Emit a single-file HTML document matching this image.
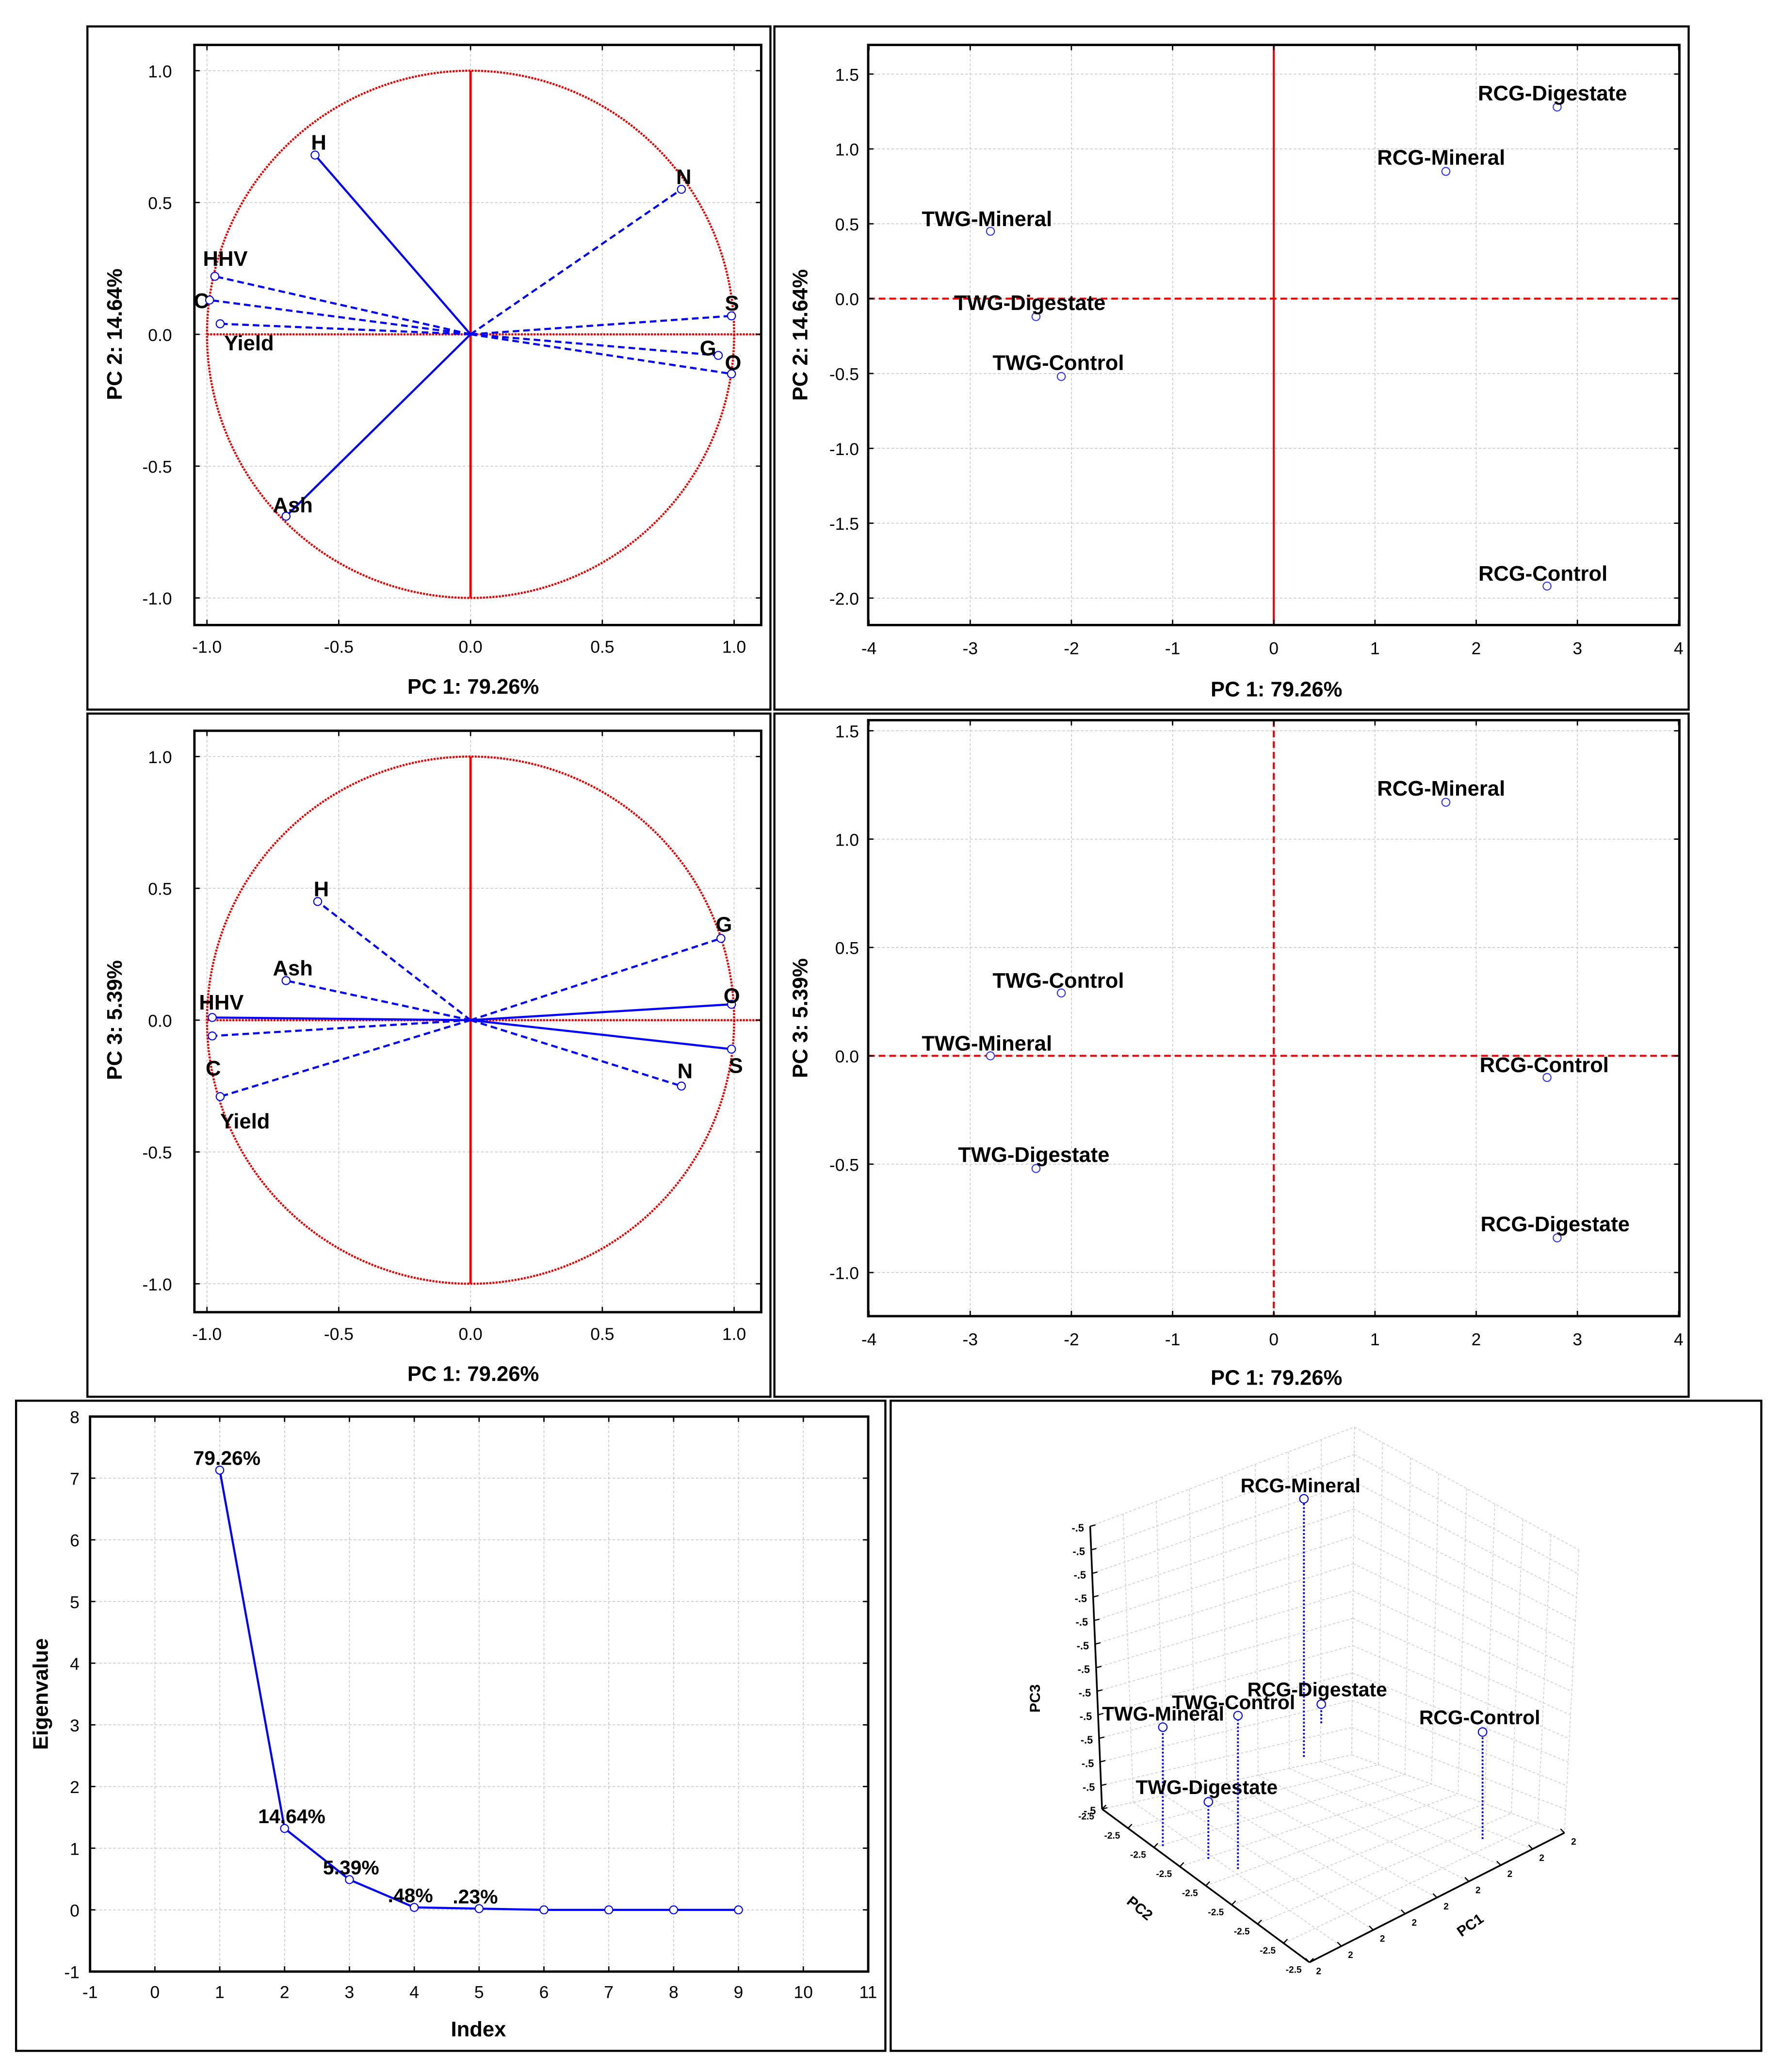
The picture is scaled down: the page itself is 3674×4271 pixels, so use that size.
<!DOCTYPE html>
<html><head><meta charset="utf-8">
<style>
html,body{margin:0;padding:0;background:#fff}
svg{display:block}
text{font-family:"Liberation Sans",Arial,sans-serif}
</style></head>
<body>
<svg id="fig" xmlns="http://www.w3.org/2000/svg" width="3674" height="4271" viewBox="0 0 1348.5 1568">
<rect x="0" y="0" width="1348.5" height="1568" fill="#fff"/>
</svg>
<script>
// ---------- DATA ----------
const varNames = ["H","N","HHV","C","Yield","S","G","O","Ash"];
const loadPC1 = [-0.59,0.80,-0.97,-0.99,-0.95,0.99,0.94,0.99,-0.70];
const loadPC2 = [0.68,0.55,0.22,0.13,0.04,0.07,-0.08,-0.15,-0.69];
const loadStyle12 = ["solid","dash","dash","dash","dash","dash","dash","dash","solid"];

const varNames3 = ["H","Ash","HHV","C","Yield","G","O","S","N"];
const load3PC1 = [-0.58,-0.70,-0.98,-0.98,-0.95,0.95,0.99,0.99,0.80];
const load3PC3 = [0.45,0.15,0.01,-0.06,-0.29,0.31,0.06,-0.11,-0.25];
const loadStyle13 = ["dash","dash","solid","dash","dash","dash","solid","solid","dash"];

const groups = ["RCG-Digestate","RCG-Mineral","TWG-Mineral","TWG-Digestate","TWG-Control","RCG-Control"];
const scorePC1 = [2.8,1.7,-2.8,-2.35,-2.1,2.7];
const scorePC2 = [1.28,0.85,0.45,-0.12,-0.52,-1.92];
const scorePC3 = [-0.84,1.17,0.0,-0.52,0.29,-0.10];

const screeIndex = [1,2,3,4,5,6,7,8,9];
const eigenvalues = [7.13,1.32,0.49,0.04,0.02,0.0,0.0,0.0,0.0];
const screeLabels = ["79.26%","14.64%","5.39%",".48%",".23%","","","",""];

const circleTicks = [-1.0,-0.5,0.0,0.5,1.0];
const scoreXTicks = [-4,-3,-2,-1,0,1,2,3,4];
const score2YTicks = [1.5,1.0,0.5,0.0,-0.5,-1.0,-1.5,-2.0];
const score3YTicks = [1.5,1.0,0.5,0.0,-0.5,-1.0];
const screeXTicks = [-1,0,1,2,3,4,5,6,7,8,9,10,11];
const screeYTicks = [-1,0,1,2,3,4,5,6,7,8];

// ---------- HELPERS ----------
const NS="http://www.w3.org/2000/svg";
const svg=document.getElementById('fig');
function el(tag,attrs,parent,txt){
  const e=document.createElementNS(NS,tag);
  for(const k in attrs)e.setAttribute(k,attrs[k]);
  if(txt!==undefined)e.textContent=txt;
  (parent||svg).appendChild(e);return e;
}
function grp(name){const g=el('g',{});
  
  
  return g;}
function fmt1(v){return (v<0?"-":"")+Math.abs(v).toFixed(1);}
function frame(g,x0,y0,x1,y1){
  el('rect',{x:x0,y:y0,width:x1-x0,height:y1-y0,fill:'none',stroke:'#000','stroke-width':1.8},g);
}
function ticksInner(g,xs,ys,x0,y0,x1,y1){
  xs.forEach(x=>{el('line',{x1:x,y1:y1,x2:x,y2:y1-4,stroke:'#000','stroke-width':1},g);el('line',{x1:x,y1:y0,x2:x,y2:y0+4,stroke:'#000','stroke-width':1},g);});
  ys.forEach(y=>{el('line',{x1:x0,y1:y,x2:x0+4,y2:y,stroke:'#000','stroke-width':1},g);el('line',{x1:x1,y1:y,x2:x1-4,y2:y,stroke:'#000','stroke-width':1},g);});
}
function gridLines(g,xs,ys,x0,y0,x1,y1){
  xs.forEach(x=>el('line',{x1:x,y1:y0,x2:x,y2:y1,stroke:'#c8c8c8','stroke-width':0.6,'stroke-dasharray':'2,1.5'},g));
  ys.forEach(y=>el('line',{x1:x0,y1:y,x2:x1,y2:y,stroke:'#c8c8c8','stroke-width':0.6,'stroke-dasharray':'2,1.5'},g));
}
function outerBox(name,x0,y0,x1,y1){
  const r=el('rect',{x:x0,y:y0,width:x1-x0,height:y1-y0,fill:'none',stroke:'#000','stroke-width':1.6});
  
  
}
function vTitle(g,x,y,t,name){
  const e=el('text',{x:x,y:y,transform:`rotate(-90 ${x} ${y})`,'text-anchor':'middle','font-size':16,'font-weight':'bold'},g,t);
  
  
}
function hTitle(g,x,y,t,name){
  const e=el('text',{x:x,y:y,'text-anchor':'middle','font-size':16,'font-weight':'bold'},g,t);
  
  
}

// ---------- CIRCLE PANELS ----------
function circlePanel(opts){
  const g=grp(opts.name);
  outerBox(opts.name+'-border',66,opts.boxY0,583,opts.boxY1);
  const cx=356, cy=opts.cy, R=199.5;
  const X=v=>cx+v*R, Y=v=>cy-v*R;
  const px0=147,px1=576,py0=opts.py0,py1=opts.py1;
  gridLines(g,circleTicks.map(X),circleTicks.map(Y),px0,py0,px1,py1);
  el('circle',{cx:cx,cy:cy,r:R,fill:'none',stroke:'#e00','stroke-width':1.6,'stroke-dasharray':'1.5,0.9'},g);
  el('line',{x1:X(-1),y1:cy,x2:px1,y2:cy,stroke:'#e00','stroke-width':1.6,'stroke-dasharray':'1.5,0.9'},g);
  el('line',{x1:cx,y1:Y(1),x2:cx,y2:Y(-1),stroke:'#e00','stroke-width':1.8},g);
  frame(g,px0,py0,px1,py1);
  ticksInner(g,circleTicks.map(X),circleTicks.map(Y),px0,py0,px1,py1);
  circleTicks.forEach(v=>{
    el('text',{x:X(v),y:py1+21,'text-anchor':'middle','font-size':13},g,fmt1(v));
    el('text',{x:px0-17,y:Y(v)+5,'text-anchor':'end','font-size':13},g,fmt1(v));
  });
  opts.names.forEach((n,i)=>{
    const x=X(opts.xs[i]),y=Y(opts.ys[i]);
    const ln=el('line',{x1:cx,y1:cy,x2:x,y2:y,stroke:'#00f','stroke-width':1.6,'stroke-dasharray':opts.styles[i]==='dash'?'5,3':'none'},g);
    
    
    el('circle',{cx:x,cy:y,r:3,fill:'#fff',stroke:'#00f','stroke-width':0.8},g);
    const o=opts.lab[i];
    const t=el('text',{x:x+o[0],y:y+o[1],'font-size':16,'font-weight':'bold','text-anchor':o[2]||'start'},g,n);
    
    
  });
  vTitle(g,92,cy,opts.ytitle,'y-axis-title');
  hTitle(g,358,opts.xtitleY,'PC 1: 79.26%','x-axis-title');
}
circlePanel({name:'loadings-pc1-pc2',boxY0:20,boxY1:537,cy:253,py0:34,py1:473,
  names:varNames,xs:loadPC1,ys:loadPC2,styles:loadStyle12,ytitle:'PC 2: 14.64%',xtitleY:525,
  lab:[[-3,-4],[-4,-4],[-9,-8],[-12,6],[3,20],[-5,-4],[-14,0],[-5,-3],[-10,-3]]});
circlePanel({name:'loadings-pc1-pc3',boxY0:540,boxY1:1057,cy:772,py0:553,py1:993,
  names:varNames3,xs:load3PC1,ys:load3PC3,styles:loadStyle13,ytitle:'PC 3:  5.39%',xtitleY:1045,
  lab:[[-3,-4],[-10,-4],[-10,-6],[-5,30],[0,24],[-4,-5],[-6,-1],[-2,18],[-3,-6]]});

// ---------- SCORE PANELS ----------
function scorePanel(opts){
  const g=grp(opts.name);
  outerBox(opts.name+'-border',586,opts.boxY0,1278,opts.boxY1);
  const px0=657,px1=1271,py0=opts.py0,py1=opts.py1;
  const X=v=>964+v*76.6, Y=v=>opts.y0+-v*opts.ys;
  gridLines(g,scoreXTicks.map(X),opts.yt.map(Y),px0,py0,px1,py1);
  el('line',{x1:px0,y1:Y(0),x2:px1,y2:Y(0),stroke:'#e00','stroke-width':1.5,'stroke-dasharray':'5,3'},g);
  el('line',{x1:X(0),y1:py0,x2:X(0),y2:py1,stroke:'#e00','stroke-width':1.5,'stroke-dasharray':opts.vdash},g);
  frame(g,px0,py0,px1,py1);
  ticksInner(g,scoreXTicks.map(X),opts.yt.map(Y),px0,py0,px1,py1);
  scoreXTicks.forEach(v=>el('text',{x:X(v),y:py1+22,'text-anchor':'middle','font-size':13},g,String(v)));
  opts.yt.forEach(v=>el('text',{x:px0-7,y:Y(v)+5,'text-anchor':'end','font-size':13},g,fmt1(v)));
  groups.forEach((n,i)=>{
    const x=X(scorePC1[i]),y=Y(opts.yv[i]);
    const c=el('circle',{cx:x,cy:y,r:3,fill:'#fff',stroke:'#33f','stroke-width':0.8},g);
    
    
    const o=opts.lab[i];
    const t=el('text',{x:x+o[0],y:y+o[1],'font-size':16,'font-weight':'bold'},g,n);
    
    
  });
  vTitle(g,611,(py0+py1)/2,opts.ytitle,'y-axis-title');
  hTitle(g,966,opts.xtitleY,'PC 1: 79.26%','x-axis-title');
}
scorePanel({name:'scores-pc1-pc2',boxY0:20,boxY1:537,py0:34,py1:473,y0:226,ys:113.3,yt:score2YTicks,yv:scorePC2,vdash:'none',
  ytitle:'PC 2: 14.64%',xtitleY:527,
  lab:[[-60,-5],[-52,-5],[-52,-4],[-62,-5],[-52,-5],[-52,-4]]});
scorePanel({name:'scores-pc1-pc3',boxY0:540,boxY1:1057,py0:545,py1:996,y0:799,ys:164,yt:score3YTicks,yv:scorePC3,vdash:'5,3',
  ytitle:'PC 3:  5.39%',xtitleY:1048,
  lab:[[-58,-5],[-52,-5],[-52,-4],[-59,-5],[-52,-4],[-51,-4]]});

// ---------- SCREE ----------
(function(){
  const g=grp('scree-plot');
  outerBox('scree-border',12,1060,670,1552);
  const px0=68,px1=657,py0=1072,py1=1492;
  const X=v=>68+(v+1)*49.08, Y=v=>1445.3-v*46.67;
  gridLines(g,screeXTicks.map(X),screeYTicks.map(Y),px0,py0,px1,py1);
  frame(g,px0,py0,px1,py1);
  ticksInner(g,screeXTicks.map(X),screeYTicks.map(Y),px0,py0,px1,py1);
  screeXTicks.forEach(v=>el('text',{x:X(v),y:py1+20,'text-anchor':'middle','font-size':13},g,String(v)));
  screeYTicks.forEach(v=>el('text',{x:px0-8,y:Y(v)+5,'text-anchor':'end','font-size':13},g,String(v)));
  const pts=screeIndex.map((v,i)=>X(v)+','+Y(eigenvalues[i])).join(' ');
  const pl=el('polyline',{points:pts,fill:'none',stroke:'#00f','stroke-width':1.6},g);
  
  
  screeIndex.forEach((v,i)=>{
    const c=el('circle',{cx:X(v),cy:Y(eigenvalues[i]),r:3,fill:'#fff',stroke:'#00f','stroke-width':0.8},g);
    
    
    if(screeLabels[i]){
      const t=el('text',{x:X(v)-20,y:Y(eigenvalues[i])-4,'font-size':15,'font-weight':'bold'},g,screeLabels[i]);
      
      
    }
  });
  vTitle(g,36,1282,'Eigenvalue','y-axis-title');
  hTitle(g,362,1541,'Index','x-axis-title');
})();

// ---------- 3D ----------
(function(){
  const g=grp('scatter-3d');
  outerBox('scatter-3d-border',674,1060,1333,1552);
  const P=(a,b)=>[973.7+27.2*a-39*b, 1373.9-12.6*a-27*b];
  const H=c=>(c+1)*90;
  const A=[825,1155],B=[834,1369],C=[1025,1080],D=[1023,1328],E=[1195,1173],F=[1184,1387],G=[991,1485];
  const lerp=(p,q,t)=>[p[0]+(q[0]-p[0])*t,p[1]+(q[1]-p[1])*t];
  const gs={stroke:'#cfcfcf','stroke-width':0.6,'stroke-dasharray':'2,1.5'};
  function wall(p0,p1,q0,q1,n,m){
    for(let i=0;i<=n;i++){const a=lerp(p0,q0,i/n),b=lerp(p1,q1,i/n);el('line',Object.assign({x1:a[0],y1:a[1],x2:b[0],y2:b[1]},gs),g);}
    for(let j=0;j<=m;j++){const a=lerp(p0,p1,j/m),b=lerp(q0,q1,j/m);el('line',Object.assign({x1:a[0],y1:a[1],x2:b[0],y2:b[1]},gs),g);}
  }
  wall(A,B,C,D,8,12);
  wall(C,D,E,F,8,12);
  wall(B,G,D,F,8,8);
  el('line',{x1:A[0],y1:A[1],x2:B[0],y2:B[1],stroke:'#000','stroke-width':1.3},g);
  el('line',{x1:B[0],y1:B[1],x2:G[0],y2:G[1],stroke:'#000','stroke-width':1.3},g);
  el('line',{x1:G[0],y1:G[1],x2:F[0],y2:F[1],stroke:'#000','stroke-width':1.3},g);
  for(let i=0;i<=12;i++){const p=lerp(A,B,i/12);el('line',{x1:p[0],y1:p[1],x2:p[0]+4,y2:p[1]-1,stroke:'#000','stroke-width':0.9},g);
    el('text',{x:p[0]-14,y:p[1]+4,'font-size':8,'font-weight':'bold'},g,'-.5');}
  for(let i=0;i<=8;i++){const p=lerp(B,G,i/8);el('line',{x1:p[0],y1:p[1],x2:p[0]+3,y2:p[1]-3,stroke:'#000','stroke-width':0.9},g);
    el('text',{x:p[0]-18,y:p[1]+8,'font-size':7,'font-weight':'bold'},g,'-2.5');
    const q=lerp(G,F,i/8);el('line',{x1:q[0],y1:q[1],x2:q[0]-3,y2:q[1]-3,stroke:'#000','stroke-width':0.9},g);
    el('text',{x:q[0]+5,y:q[1]+9,'font-size':7,'font-weight':'bold'},g,'2');}
  el('text',{x:787,y:1296,'font-size':11,'font-weight':'bold',transform:'rotate(-90 787 1296)'},g,'PC3');
  el('text',{x:852,y:1440,'font-size':11,'font-weight':'bold',transform:'rotate(40 852 1440)'},g,'PC2');
  el('text',{x:1106,y:1466,'font-size':11,'font-weight':'bold',transform:'rotate(-35 1106 1466)'},g,'PC1');
  const lab=[[-56,-6],[-48,-5],[-46,-5],[-55,-6],[-50,-5],[-48,-6]];
  groups.forEach((n,i)=>{
    const b=P(scorePC1[i],scorePC2[i]);const top=[b[0],b[1]-H(scorePC3[i])];
    const s=el('line',{x1:b[0],y1:b[1],x2:top[0],y2:top[1],stroke:'#00f','stroke-width':1.4,'stroke-dasharray':'1.4,1.4'},g);
    
    
    const c=el('circle',{cx:top[0],cy:top[1],r:3.2,fill:'#fff',stroke:'#00f','stroke-width':0.8},g);
    
    
    const t=el('text',{x:top[0]+lab[i][0],y:top[1]+lab[i][1],'font-size':15,'font-weight':'bold'},g,n);
    
    
  });
})();
</script>
</body></html>
